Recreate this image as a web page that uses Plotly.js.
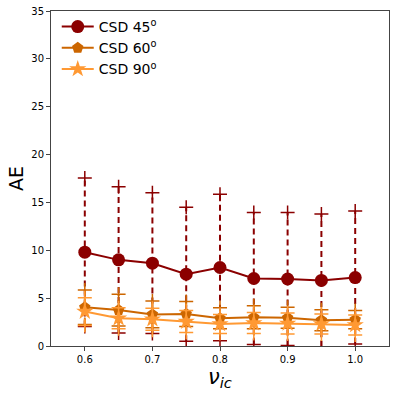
<!DOCTYPE html>
<html><head><meta charset="utf-8">
<script src="https://cdn.plot.ly/plotly-3.0.1.min.js"></script>
<style>html,body{margin:0;padding:0;background:#fff}#chart{width:399px;height:395px}</style>
</head><body><div id="chart"></div>
<script>
const nu = [0.6, 0.65, 0.7, 0.75, 0.8, 0.85, 0.9, 0.95, 1.0];
const ae45 = [9.8, 9.0, 8.65, 7.5, 8.2, 7.05, 7.0, 6.85, 7.15];
const err45 = [7.75, 7.65, 7.35, 7.0, 7.65, 6.9, 6.95, 6.95, 6.95];
const ae60 = [4.05, 3.75, 3.3, 3.35, 2.9, 3.0, 2.95, 2.7, 2.75];
const err60 = [1.8, 1.65, 1.4, 1.3, 1.1, 1.2, 1.1, 1.1, 0.95];
const ae90 = [3.6, 2.9, 2.8, 2.55, 2.3, 2.4, 2.35, 2.3, 2.2];
const err90 = [1.45, 1.1, 1.15, 1.15, 1.0, 1.1, 1.1, 1.05, 1.05];
const names = ['CSD 45<sup>o</sup>', 'CSD 60<sup>o</sup>', 'CSD 90<sup>o</sup>'];
const colors = ['#8b0000', '#cc6600', '#ff9933'];
const symbols = ['circle', 'pentagon', 'star'];
const sizes = [13, 12, 13];

const series = [[ae45, err45], [ae60, err60], [ae90, err90]];
const traces = [];
series.forEach(([y, e], i) => {
  const ex = [], ey = [];
  nu.forEach((x, k) => { ex.push(x, x, null); ey.push(y[k] - e[k], y[k] + e[k], null); });
  traces.push({x: ex, y: ey, mode: 'lines', showlegend: false, hoverinfo: 'skip',
    line: {color: colors[i], width: 2, dash: '6px,4px'}});
  const cx = [], cy = [];
  nu.forEach((x, k) => { cx.push(x, x); cy.push(y[k] - e[k], y[k] + e[k]); });
  traces.push({x: cx, y: cy, mode: 'markers', showlegend: false, hoverinfo: 'skip',
    marker: {symbol: 'cross-thin', size: 10, color: colors[i], line: {color: colors[i], width: 1.5}}});
  traces.push({x: nu, y: y, name: names[i], mode: 'lines+markers',
    line: {color: colors[i], width: 2},
    marker: {symbol: symbols[i], size: sizes[i], color: colors[i], line: {width: 0}}});
});

const layout = {
  width: 399, height: 395,
  margin: {l: 51, r: 10, t: 11, b: 49},
  paper_bgcolor: '#fff', plot_bgcolor: '#fff',
  font: {family: 'DejaVu Sans', color: '#000'},
  showlegend: true,
  legend: {x: 0.017, y: 1.0, xanchor: 'left', yanchor: 'top', bgcolor: 'rgba(255,255,255,0)',
    font: {size: 14, family: 'DejaVu Sans'}, tracegroupgap: 0, itemwidth: 32},
  xaxis: {range: [0.55, 1.05], tick0: 0.6, dtick: 0.1, tickformat: '.1f',
    showgrid: false, zeroline: false, showline: true, mirror: true, linecolor: '#444', linewidth: 1,
    ticks: 'outside', ticklen: 4, tickcolor: '#444', tickfont: {size: 10},
    title: {text: '<i>ν<sub>ic</sub></i>', font: {size: 21}, standoff: 2}},
  yaxis: {range: [0, 35], dtick: 5,
    showgrid: false, zeroline: false, showline: true, mirror: true, linecolor: '#444', linewidth: 1,
    ticks: 'outside', ticklen: 4, tickcolor: '#444', tickfont: {size: 10},
    title: {text: 'AE', font: {size: 19}, standoff: 2}}
};
Plotly.newPlot('chart', traces, layout, {displayModeBar: false, staticPlot: true});
</script></body></html>
